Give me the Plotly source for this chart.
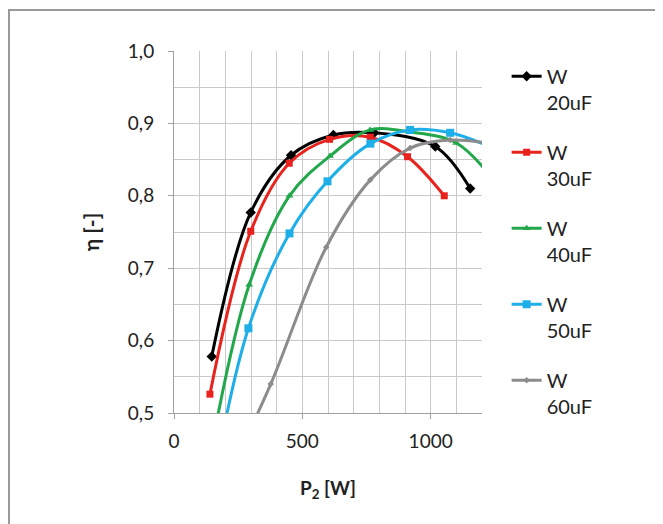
import plotly.graph_objects as go

# Data
x_20 = [147, 299, 456, 621, 780, 1018, 1154]
y_20 = [0.578, 0.777, 0.856, 0.884, 0.887, 0.868, 0.810]

x_30 = [140, 299, 449, 606, 765, 910, 1053]
y_30 = [0.526, 0.751, 0.845, 0.878, 0.881, 0.854, 0.800]

x_40 = [140, 293, 450, 608, 764, 920, 1100, 1250]
y_40 = [0.44, 0.677, 0.800, 0.855, 0.891, 0.888, 0.873, 0.820]

x_50 = [145, 290, 450, 598, 765, 920, 1076, 1230]
y_50 = [0.39, 0.617, 0.748, 0.820, 0.872, 0.891, 0.887, 0.868]

x_60 = [220, 377, 593, 765, 920, 1076, 1240]
y_60 = [0.42, 0.540, 0.729, 0.822, 0.866, 0.877, 0.872]

names = ["W<br>20uF", "W<br>30uF", "W<br>40uF", "W<br>50uF", "W<br>60uF"]
colors = ["#000000", "#e8231d", "#22a84b", "#1eaee8", "#8c8c8c"]
symbols = ["diamond", "square", "triangle-up", "square", "diamond"]
msizes = [8, 7, 7, 8, 5]

xs = [x_20, x_30, x_40, x_50, x_60]
ys = [y_20, y_30, y_40, y_50, y_60]

x_ticks = [0, 500, 1000]
y_ticks = [0.5, 0.6, 0.7, 0.8, 0.9, 1.0]

FONT = "Lato"
TXT = "#222222"

fig = go.Figure()
for i in range(5):
    fig.add_trace(go.Scatter(
        x=xs[i], y=ys[i], name=names[i], mode="lines+markers",
        line=dict(color=colors[i], width=3, shape="spline", smoothing=1.0),
        marker=dict(symbol=symbols[i], size=msizes[i], color=colors[i]),
        legendgroup=str(i),
    ))

grid = "#c9c9c9"
# page body has an 8px margin, so margins are reduced by 8 on left/top
fig.update_layout(
    width=663, height=524,
    margin=dict(l=166, r=189, t=43, b=119),
    paper_bgcolor="white", plot_bgcolor="white",
    separators=",.",
    font=dict(family=FONT, size=19, color=TXT),
    showlegend=True,
    legend=dict(x=1.08, xanchor="left", y=0.984, yanchor="top",
                font=dict(family=FONT, size=20, color=TXT),
                tracegroupgap=21, valign="top", traceorder="grouped",
                maxheight=470,
                bgcolor="rgba(0,0,0,0)"),
    xaxis=dict(range=[0, 1200], tickvals=x_ticks, showgrid=True, gridcolor=grid,
               gridwidth=1, minor=dict(dtick=100, tick0=0, showgrid=True, gridcolor=grid, gridwidth=1),
               showline=True, linecolor="#a0a0a0", linewidth=1, ticks="outside",
               ticklen=5, tickcolor="#a0a0a0", zeroline=False, ticklabelstandoff=6,
               tickfont=dict(family=FONT, size=19, color=TXT),
               title=dict(text="<b>P<sub>2</sub> [W]</b>", standoff=30,
                          font=dict(family=FONT, size=19, color=TXT))),
    yaxis=dict(range=[0.5, 1.0], tickvals=y_ticks, tickformat=".1f", showgrid=True,
               gridcolor=grid, gridwidth=1,
               minor=dict(dtick=0.05, tick0=0.5, showgrid=True, gridcolor=grid, gridwidth=1),
               showline=True, linecolor="#a0a0a0", linewidth=1, ticks="outside",
               ticklen=5, tickcolor="#a0a0a0", zeroline=False, ticklabelstandoff=10,
               tickfont=dict(family=FONT, size=19, color=TXT),
               title=dict(text="<b>η [-]</b>", standoff=22,
                          font=dict(family=FONT, size=21, color=TXT))),
    shapes=[dict(type="rect", xref="paper", yref="paper",
                 x0=(1 - 166) / 308, x1=2.0, y0=-1.0, y1=1 + (43 - 2) / 362,
                 line=dict(color="#9a9a9a", width=2), layer="below")],
)

fig.write_html("out.html")
